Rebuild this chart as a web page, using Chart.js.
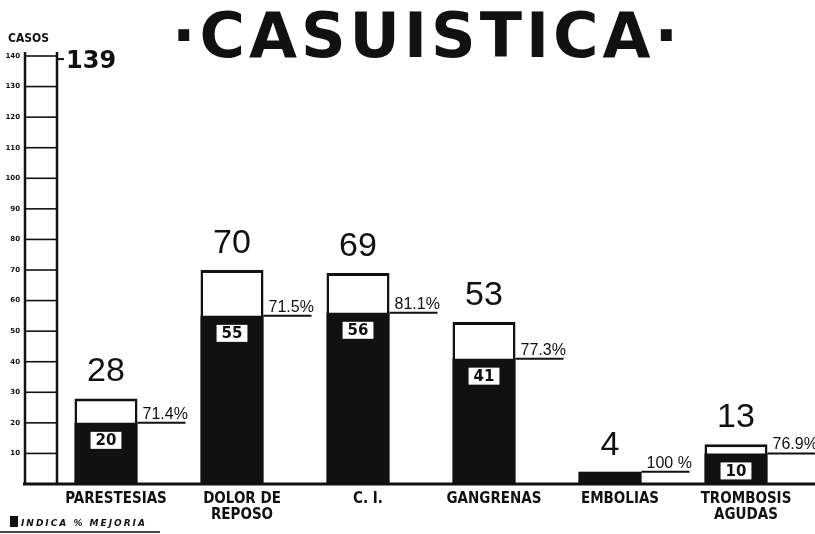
<!DOCTYPE html>
<html><head><meta charset="utf-8">
<script src="https://cdn.jsdelivr.net/npm/chart.js@4.4.1/dist/chart.umd.min.js"></script>
<style>html,body{margin:0;padding:0;background:#fff;}#wrap{width:815px;height:534px;}</style>
</head><body><div id="wrap"><canvas id="c" width="815" height="534"></canvas></div>
<script>
// ---- data ----
const categories = ["PARESTESIAS", ["DOLOR DE", "REPOSO"], "C. I.", "GANGRENAS", "EMBOLIAS", ["TROMBOSIS", "AGUDAS"]];
const totalCases = [28, 70, 69, 53, 4, 13];
const improvedCases = [20, 55, 56, 41, 4, 10];
const improvedPct = ["71.4%", "71.5%", "81.1%", "77.3%", "100 %", "76.9%"];
const grandTotal = 139;
const yMax = 140;
const yStep = 10;
const titleText = "·CASUISTICA·";
const axisTitle = "CASOS";
const legendText = "INDICA % MEJORIA";

const ink = '#111';

function line(ctx, x1, y1, x2, y2) { ctx.beginPath(); ctx.moveTo(x1, y1); ctx.lineTo(x2, y2); ctx.stroke(); }

const decor = {
  id: 'decor',
  afterDraw(chart) {
    const { ctx, chartArea: a, scales: { x, y } } = chart;
    const mImp = chart.getDatasetMeta(0), mTot = chart.getDatasetMeta(1);
    ctx.save();
    ctx.fillStyle = ink; ctx.strokeStyle = ink; ctx.lineCap = 'butt';
    // ladder axis
    const lx1 = a.left - 18, lx2 = a.left + 14;
    const y0 = y.getPixelForValue(0), yTop = y.getPixelForValue(yMax);
    ctx.lineWidth = 2.5;
    line(ctx, lx1, y0, lx1, yTop - 4);
    line(ctx, lx2, y0, lx2, yTop - 4);
    ctx.lineWidth = 1.6;
    y.ticks.forEach(t => { if (t.value > 0) { const py = y.getPixelForValue(t.value); line(ctx, lx1, py, lx2, py); } });
    // baseline
    ctx.lineWidth = 3;
    line(ctx, lx1 - 2, y0, chart.width, y0);
    // grand total marker
    const pg = y.getPixelForValue(grandTotal);
    ctx.lineWidth = 2;
    line(ctx, lx2, pg, lx2 + 7, pg);
    ctx.font = 'bold 24px "DejaVu Sans"';
    ctx.textAlign = 'left'; ctx.textBaseline = 'middle';
    ctx.fillText(String(grandTotal), lx2 + 9, pg + 3);
    // axis title
    ctx.font = 'bold 12px "DejaVu Sans Condensed", "DejaVu Sans"';
    ctx.textBaseline = 'alphabetic';
    ctx.fillText(axisTitle, 8, 42);
    // title
    ctx.font = 'bold 62px "DejaVu Sans"';
    ctx.textAlign = 'center';
    ctx.letterSpacing = '4px';
    ctx.fillText(titleText, 427, 57);
    ctx.letterSpacing = '0px';
    // bars annotations
    mTot.data.forEach((bar, i) => {
      const imp = mImp.data[i];
      const bx = bar.x, half = bar.width / 2;
      // total label
      ctx.font = '34px "Liberation Sans"';
      ctx.textAlign = 'center'; ctx.textBaseline = 'alphabetic';
      ctx.fillText(String(totalCases[i]), bx, bar.y - 17);
      // inner improved label
      const darkH = imp.base - imp.y;
      if (darkH > 30) {
        ctx.font = 'bold 15px "DejaVu Sans"';
        const s = String(improvedCases[i]);
        const w = ctx.measureText(s).width + 10, h = 17;
        const top = imp.y + 9;
        ctx.fillStyle = '#fff';
        ctx.fillRect(bx - w / 2, top, w, h);
        ctx.fillStyle = ink;
        ctx.textBaseline = 'middle';
        ctx.fillText(s, bx, top + h / 2 + 1);
      }
      // percentage line + text
      const rx = bx + half;
      ctx.lineWidth = 2;
      line(ctx, rx, imp.y, rx + 48, imp.y);
      ctx.font = '16px "Liberation Sans Narrow", "Liberation Sans"';
      ctx.textAlign = 'left'; ctx.textBaseline = 'alphabetic';
      ctx.fillText(improvedPct[i], rx + 5, imp.y - 4);
    });
    // legend
    ctx.fillRect(10, 516, 8, 11);
    ctx.font = 'italic bold 9px "DejaVu Sans"';
    ctx.letterSpacing = '2px';
    ctx.textAlign = 'left'; ctx.textBaseline = 'alphabetic';
    ctx.fillText(legendText, 21, 526);
    ctx.letterSpacing = '0px';
    ctx.lineWidth = 1.5;
    line(ctx, 0, 532, 160, 532);
    ctx.restore();
  }
};

new Chart(document.getElementById('c'), {
  type: 'bar',
  data: {
    labels: categories,
    datasets: [
      { label: legendText, data: improvedCases, backgroundColor: ink, borderWidth: 0,
        grouped: false, categoryPercentage: 1, barPercentage: 0.5 },
      { label: 'TOTAL', data: totalCases, backgroundColor: '#fff', borderColor: ink,
        borderWidth: { top: 3, left: 2.5, right: 2.5, bottom: 0 },
        grouped: false, categoryPercentage: 1, barPercentage: 0.5 }
    ]
  },
  options: {
    responsive: false,
    devicePixelRatio: 1,
    animation: false,
    layout: { padding: { top: 56, right: 16, left: 0, bottom: 0 } },
    plugins: { legend: { display: false }, tooltip: { enabled: false }, title: { display: false } },
    scales: {
      x: {
        type: 'category', offset: true,
        grid: { display: false, drawTicks: false }, border: { display: false },
        ticks: { color: ink, font: { family: '"DejaVu Sans Condensed", "DejaVu Sans"', weight: 'bold', size: 15, lineHeight: 1.05 },
                 padding: 7, labelOffset: 10, maxRotation: 0, autoSkip: false },
        afterFit: s => { s.height = 50; }
      },
      y: {
        min: 0, max: yMax,
        grid: { display: false, drawTicks: false }, border: { display: false },
        ticks: { stepSize: yStep, color: ink, padding: 23,
                 font: { family: '"DejaVu Sans"', weight: 'bold', size: 7 },
                 callback: v => v === 0 ? '' : v },
        afterFit: s => { s.width = 43; }
      }
    }
  },
  plugins: [decor]
});
</script>
</body></html>
